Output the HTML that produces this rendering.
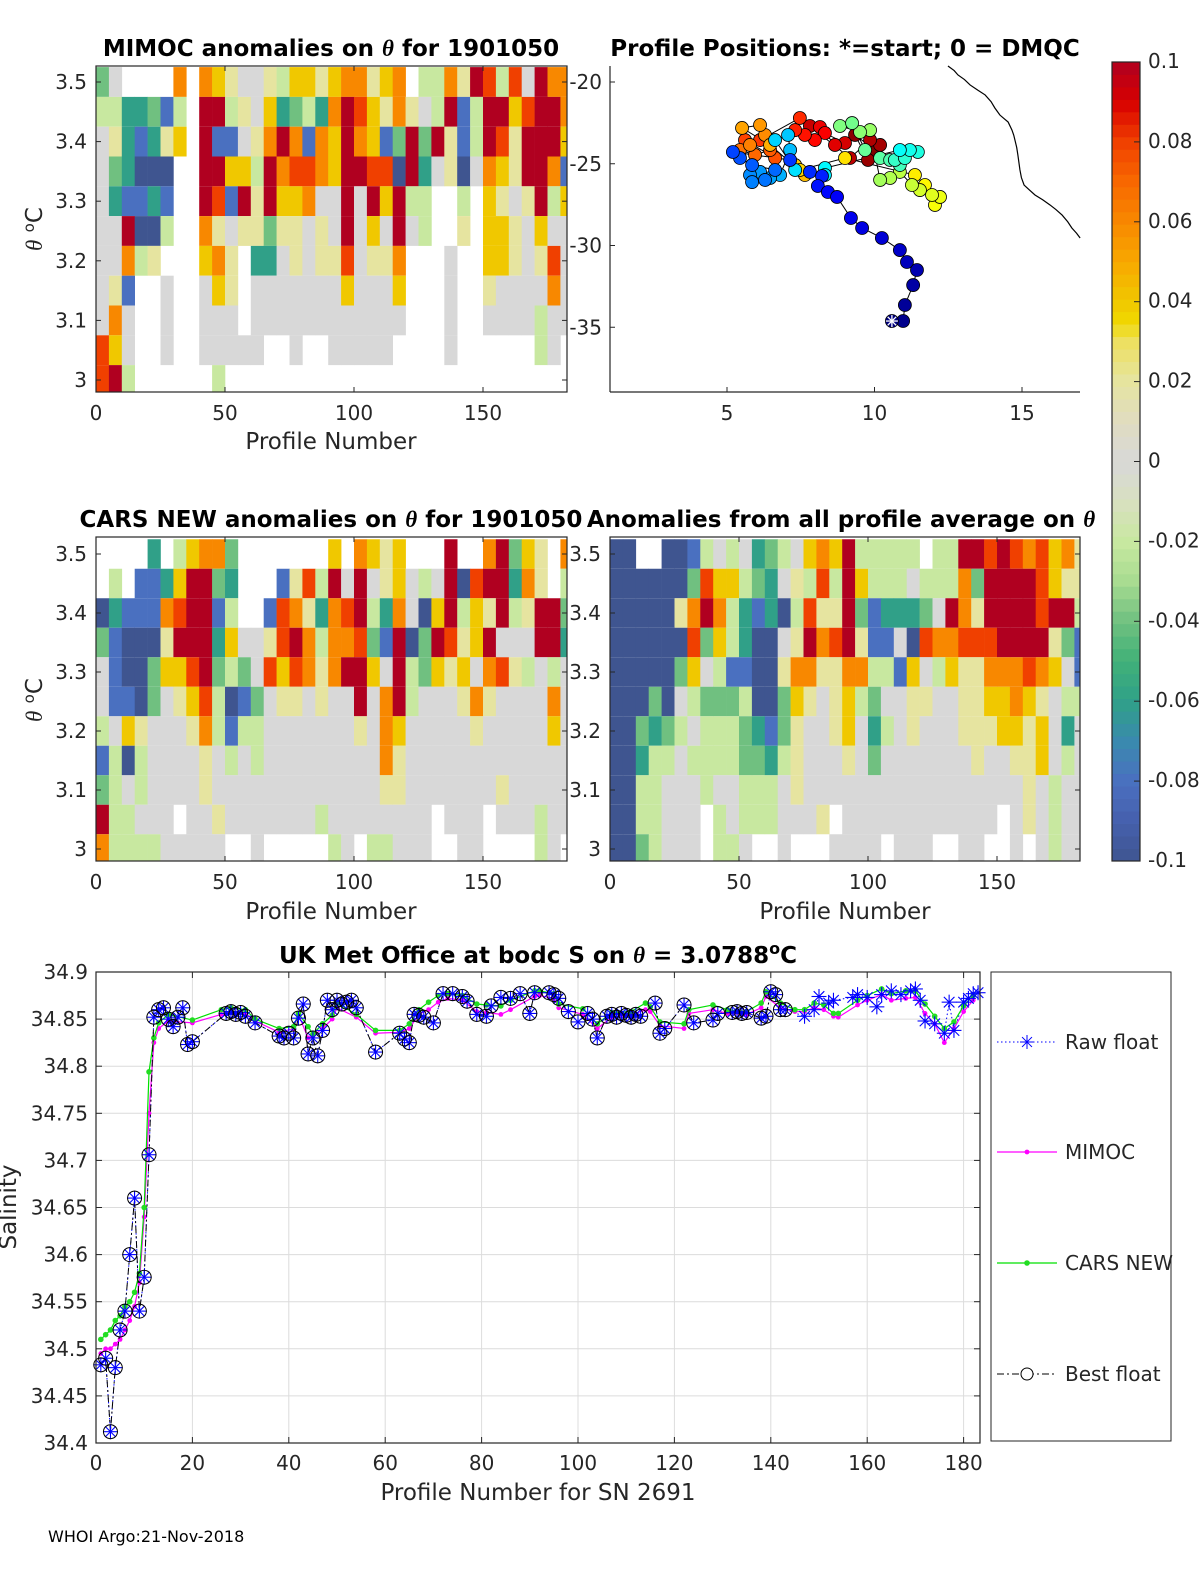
<!DOCTYPE html>
<html><head><meta charset="utf-8"><title>Argo float anomalies</title>
<style>
body{margin:0;background:#fff;}
svg{display:block;font-family:"DejaVu Sans","Liberation Sans",sans-serif;}
.tk{font-size:20px;fill:#262626;}
.ttl{font-size:23px;font-weight:bold;fill:#000;}
.lbl{font-size:23px;fill:#262626;}
</style></head>
<body>
<svg id="fig" width="1200" height="1575" viewBox="0 0 1200 1575" xmlns="http://www.w3.org/2000/svg">
<rect width="1200" height="1575" fill="#fff"/>
<g id="p1"></g>
<g id="p2"></g>
<g id="p3"></g>
<g id="p4"></g>
<g id="cb"></g>
<g id="p5"></g>

<text class="ttl" x="331" y="56" text-anchor="middle">MIMOC anomalies on <tspan font-style="italic" font-family="Liberation Serif">θ</tspan>  for 1901050</text>
<text class="ttl" x="845" y="56" text-anchor="middle">Profile Positions: *=start; 0 = DMQC</text>
<text class="ttl" x="331" y="527" text-anchor="middle">CARS NEW anomalies on <tspan font-style="italic" font-family="Liberation Serif">θ</tspan> for 1901050</text>
<text class="ttl" x="841" y="527" text-anchor="middle">Anomalies from all profile average on <tspan font-style="italic" font-family="Liberation Serif">θ</tspan></text>
<text class="ttl" x="538" y="963" text-anchor="middle">UK Met Office at bodc S on <tspan font-style="italic" font-family="Liberation Serif">θ</tspan> = 3.0788<tspan dy="-9" font-size="16">o</tspan><tspan dy="9">C</tspan></text>

<text class="lbl" x="331" y="449" text-anchor="middle">Profile Number</text>
<text class="lbl" x="331" y="919" text-anchor="middle">Profile Number</text>
<text class="lbl" x="845" y="919" text-anchor="middle">Profile Number</text>
<text class="lbl" transform="translate(42,229) rotate(-90)" text-anchor="middle"><tspan font-style="italic" font-family="Liberation Serif">θ</tspan> <tspan dy="-8" font-size="15">o</tspan><tspan dy="8">C</tspan></text>
<text class="lbl" transform="translate(42,700) rotate(-90)" text-anchor="middle"><tspan font-style="italic" font-family="Liberation Serif">θ</tspan> <tspan dy="-8" font-size="15">o</tspan><tspan dy="8">C</tspan></text>
<text class="lbl" x="538" y="1500" text-anchor="middle">Profile Number for SN 2691</text>
<text class="lbl" transform="translate(16,1207) rotate(-90)" text-anchor="middle">Salinity</text>
<text x="48" y="1542" font-size="16" fill="#000">WHOI Argo:21-Nov-2018</text>
</svg>
<script>
// ---------- heatmap data (columns = 5 profiles each, rows = theta bins 3.50 .. 3.00) ----------
const thetaCenters = [3.5,3.45,3.4,3.35,3.3,3.25,3.2,3.15,3.1,3.05,3.0];
const levelCodes = "ABCDEFGHIJK"; // -0.1 .. 0.1 step 0.02, '.' = no data
const mimocRows = [
"DF....I.IHGFFGEHHGHIIGHI.EEIGKJEJFKII",
"EECCDBE.KKEGFHCDECIKJHGIGFEKBEKKHJKKI",
"FGCBCGH.KBBFGIKIBIHKIHBDKDKGBEKJGKKKH",
"FDCAAA..KKHHEKIJJIHKKJJAKCFGAFIHGKKIB",
"FCBBCB..KJBKGKHHIFFKFKHKEE..E.HGFGKEH",
"FFKAAE..IGFGGDGGFGFKFHFKFE..G.HHGFHFF",
"FFIEG...HIG.CCFGFGGJFGGI...F..HHGFGJF",
"FGB..F..FHG.FFFFFFFHFFFH...F..GFFFFIF",
"FIF..F..FFF.FFFFFFFFFFFF...F..FFFFEFF",
"JHF..F..FFFFF..F..FFFFF....F......EF.",
"JKE......E..........................."];
const carsRows = [
"....C.EHIID.......H.IHGH...K..IKDHG.I",
".E.BBCHKKDC...BGJEKFKFGHFEFKAJKKCIG.E",
"ACBBBIJKKBE..BJIGCIJKECIFAHKEHGKEGKKD",
"DBAAAGKKKCHFFGJKIEIIJDBKADKJGHKFFFKKC",
"FBAADHHJKDEDFJHJIGIKKHFKEDHGHFIJGEFEF",
"FBBADFGHJEABDFGGFGFFKFIKEFFFGIGFFFFIF",
"EFHGFFFGIEBEEFFFFFFFGFIHFFFFFGFFFFFHF",
"BEAEFFFFGFEFEFFFFFFFFFIGFFFFFFFFFFFFF",
"DEFEFFFFGFFFFFFFFFFFFFGGFFFFFFFGFFFFF",
"KEEFFF.FFGFFFFFFFEFFFFFFFF.FFF.FFFEFF",
"IEEEEFFFFF..F.....EF.EEFFF..FF....EF."];
const avgRows = [
"AA..AABEFEFCDEFHIHKEEEEE.EEKKJKJIJHIG",
"AAAAAADJHHEDCFGEJEKHEEEFEEEIDKKKKJHGG",
"AAAAAGIKIECBCAEJGGKDBCCCDFKIGKKKKJKKE",
"AAAAAAJDHECAAFGKIJKGBBFAJIIJJJKKKKGDB",
"AAAAADHFEBBAAGIIGGIIEEBHFEHGGIIIJIHFB",
"AAADAFEDDDEAADHGFGHEDFFGGFFGGHHIHGFEE",
"AADCDEFEEEDCBDGFFGHFCEFGFFFGGGHHGHFCF",
"AACEEFEEEEDDCEGFFFGFDFFFFFFFGFFGGHFEF",
"AAEEFFFEFFEEEFGFFFFFFFFFFFFFFFFFGFEFF",
"AAEEFFF.EFEEEFFFG.FFFFFFFFFFFF.FGFEFF",
"AADEFFF.EEF..F...FFFF.FFF..FF..F.FEFF"];
const colorbarTicks = [0.1,0.08,0.06,0.04,0.02,0,-0.02,-0.04,-0.06,-0.08,-0.1];
const colorbarLabels = ["0.1","0.08","0.06","0.04","0.02","0","-0.02","-0.04","-0.06","-0.08","-0.1"];
const thetaTicks = [3.5,3.4,3.3,3.2,3.1,3];
const thetaTickLabels = ["3.5","3.4","3.3","3.2","3.1","3"];
const profileTicks = [0,50,100,150];

// ---------- map data ----------
const trackLon = [10.59,10.97,11.03,11.31,11.44,11.10,10.86,10.25,9.58,9.20,
 8.73,8.42,8.08,8.22,7.81,7.14,5.20,5.44,5.85,
 6.63,6.29,5.85,5.78,6.12,6.46,6.80,7.14,7.07,6.63,
 7.31,8.32,8.32,10.86,11.20,11.47,11.03,10.69,
 10.86,10.53,10.19,9.68,9.24,8.83,9.51,9.85,
 10.19,10.53,10.86,11.27,11.54,11.95,12.22,12.05,11.71,11.37,
 9.00,7.47,7.31,7.64,6.46,
 5.51,6.12,6.29,5.78,5.44,5.95,6.46,6.63,5.61,6.12,
 7.47,7.31,7.64,7.98,8.32,8.15,8.66,9.00,7.81,
 9.17,9.85,10.19,9.78,9.34,10.02];
const trackLat = [-34.62,-34.62,-33.64,-32.42,-31.50,-31.01,-30.28,-29.54,-28.93,-28.32,
 -27.03,-26.73,-26.36,-25.75,-25.50,-24.77,-24.28,-24.65,-25.08,
 -25.38,-25.99,-26.12,-25.69,-25.50,-25.87,-25.69,-24.16,-23.24,-23.55,
 -25.38,-25.69,-25.26,-24.16,-24.16,-24.28,-24.65,-24.77,
 -25.08,-24.77,-24.65,-24.16,-22.51,-22.69,-23.06,-22.94,
 -25.99,-25.87,-25.50,-26.30,-26.61,-26.91,-27.03,-27.52,-26.30,-25.69,
 -24.65,-25.38,-25.08,-25.69,-23.85,
 -22.81,-22.63,-23.24,-23.85,-24.16,-24.46,-24.16,-24.65,-23.55,-23.55,
 -22.20,-22.94,-23.24,-23.55,-23.12,-22.75,-23.85,-23.73,-22.69,
 -24.65,-23.55,-23.85,-24.77,-23.24,-24.16];
const coastLon = [12.49,12.70,12.83,13.05,13.24,13.50,13.75,13.95,14.08,14.25,14.40,14.53,14.66,14.72,14.76,14.82,14.86,14.93,14.98,15.07,15.25,15.44,15.70,15.95,16.15,16.36,16.55,16.69,16.85,16.97];
const coastLat = [-19.02,-19.30,-19.57,-19.85,-20.18,-20.50,-20.79,-21.20,-21.59,-22.02,-22.25,-22.45,-22.94,-23.25,-23.55,-24.00,-24.46,-25.38,-25.85,-26.30,-26.60,-26.91,-27.20,-27.52,-27.80,-28.14,-28.55,-28.93,-29.25,-29.54];
const lonTicks = [5,10,15];
const latTicks = [-20,-25,-30,-35];

// ---------- salinity data ----------
const bestFloat = [[1,34.483],[2,34.49],[3,34.412],[4,34.48],[5,34.52],[6,34.54],[7,34.6],[8,34.66],[9,34.54],[10,34.576],
[11,34.706],[12,34.852],[13,34.86],[14,34.862],[15,34.85],[16,34.842],[17,34.852],[18,34.862],[19,34.823],[20,34.826],
[27,34.856],[28,34.858],[29,34.855],[30,34.857],[31,34.853],[33,34.846],
[38,34.832],[39,34.83],[40,34.835],[41,34.83],[42,34.851],[43,34.866],[44,34.813],[45,34.83],[46,34.811],[47,34.838],
[48,34.87],[49,34.86],[50,34.87],[51,34.866],[52,34.868],[53,34.87],[54,34.862],[58,34.815],[63,34.835],[64,34.829],
[65,34.825],[66,34.855],[67,34.854],[68,34.852],[70,34.846],[72,34.877],[74,34.877],[76,34.874],[77,34.869],[79,34.855],
[81,34.853],[82,34.864],[84,34.873],[86,34.872],[88,34.877],[90,34.856],[91,34.878],[94,34.878],[95,34.876],[96,34.872],
[98,34.858],[100,34.847],[102,34.856],[103,34.85],[104,34.83],[106,34.853],[107,34.855],[108,34.852],[109,34.856],[110,34.854],
[111,34.852],[112,34.855],[113,34.853],[116,34.867],[117,34.835],[118,34.84],[122,34.865],[124,34.846],[128,34.849],[129,34.856],
[132,34.857],[133,34.858],[134,34.856],[135,34.857],[138,34.851],[139,34.853],[140,34.879],[141,34.876],[142,34.86],[143,34.86]];
const rawFloatExtra = [[147,34.853],[149,34.86],[150,34.874],[152,34.867],[153,34.87],[157,34.873],[158,34.876],[160,34.873],
[162,34.863],[163,34.876],[165,34.88],[167,34.876],[169,34.88],[170,34.882],[171,34.87],[172,34.848],[174,34.845],[176,34.835],
[177,34.868],[178,34.838],[180,34.868],[181,34.872],[182,34.877],[183,34.878]];
const modelProfiles = [1,2,3,4,5,6,7,8,9,10,11,12,13,15,20,26,28,31,33,38,41,42,44,45,47,49,50,54,58,63,65,67,69,71,73,76,79,81,84,86,91,92,95,96,101,104,107,111,114,115,117,122,123,128,131,135,138,139,142,145,147,149,151,153,154,158,160,163,165,168,170,172,174,176,178,180,182];
const carsS = [34.51,34.515,34.52,34.53,34.535,34.545,34.55,34.56,34.58,34.65,34.794,34.83,34.846,34.855,34.849,34.86,34.862,34.86,34.85,34.84,34.842,34.856,34.842,34.834,34.845,34.854,34.867,34.855,34.838,34.838,34.845,34.86,34.868,34.875,34.877,34.875,34.866,34.865,34.864,34.87,34.88,34.88,34.877,34.866,34.861,34.845,34.857,34.858,34.867,34.863,34.847,34.845,34.86,34.865,34.86,34.858,34.867,34.879,34.867,34.86,34.86,34.867,34.865,34.856,34.856,34.87,34.875,34.882,34.877,34.88,34.88,34.866,34.853,34.84,34.847,34.864,34.875];
const mimocS = [34.495,34.5,34.5,34.505,34.51,34.52,34.53,34.545,34.57,34.64,34.75,34.825,34.84,34.848,34.846,34.855,34.858,34.856,34.848,34.836,34.84,34.855,34.83,34.832,34.84,34.85,34.862,34.852,34.835,34.836,34.84,34.855,34.86,34.868,34.872,34.87,34.858,34.857,34.855,34.86,34.874,34.875,34.872,34.862,34.855,34.84,34.852,34.854,34.86,34.858,34.843,34.84,34.856,34.86,34.856,34.855,34.862,34.874,34.862,34.858,34.858,34.862,34.86,34.853,34.852,34.865,34.87,34.876,34.87,34.872,34.873,34.856,34.845,34.825,34.84,34.858,34.87];
const salTicks = [34.9,34.85,34.8,34.75,34.7,34.65,34.6,34.55,34.5,34.45,34.4];
const salTickLabels = ["34.9","34.85","34.8","34.75","34.7","34.65","34.6","34.55","34.5","34.45","34.4"];
const profTicks2 = [0,20,40,60,80,100,120,140,160,180];
const legendLabels = ["Raw float","MIMOC","CARS NEW","Best float"];

// ---------- helpers ----------
const NS = "http://www.w3.org/2000/svg";
function mk(parent, tag, attrs){const e=document.createElementNS(NS,tag);for(const k in attrs)e.setAttribute(k,attrs[k]);parent.appendChild(e);return e;}
const cStops=[[-0.1,[63,85,144]],[-0.09,[70,96,173]],[-0.08,[74,112,192]],[-0.07,[58,138,174]],[-0.06,[48,160,136]],[-0.05,[64,176,120]],[-0.04,[112,192,128]],[-0.03,[168,220,144]],[-0.02,[200,232,160]],[-0.01,[216,224,192]],[0,[216,216,216]],[0.01,[224,220,192]],[0.02,[230,228,160]],[0.03,[237,224,96]],[0.035,[240,216,0]],[0.04,[240,200,0]],[0.05,[248,168,0]],[0.06,[248,136,0]],[0.07,[248,104,0]],[0.08,[240,64,0]],[0.09,[216,0,0]],[0.1,[176,0,32]]];
function cmap(v){v=Math.max(-0.1,Math.min(0.1,v));for(let i=0;i<cStops.length-1;i++){const a=cStops[i],b=cStops[i+1];if(v<=b[0]){const t=(v-a[0])/(b[0]-a[0]);const c=a[1].map((x,j)=>Math.round(x+(b[1][j]-x)*t));return "rgb("+c.join(",")+")";}}return "rgb(176,0,32)";}
function jet(t){const r=Math.max(0,Math.min(1,1.5-Math.abs(4*t-3))),g=Math.max(0,Math.min(1,1.5-Math.abs(4*t-2))),b=Math.max(0,Math.min(1,1.5-Math.abs(4*t-1)));return "rgb("+[r,g,b].map(x=>Math.round(x*255)).join(",")+")";}

// ---------- heatmap panel ----------
function heatPanel(g, rows, L, R, T, B, y3, pxPer01, yLabelX){
  const xs=p=>L+p*2.58;
  const ys=th=>y3-(th-3)*pxPer01*10;
  rows.forEach((row,r)=>{
    for(let c=0;c<row.length;c++){
      const ch=row[c]; if(ch===".")continue;
      const v=levelCodes.indexOf(ch)*0.02-0.1;
      const x0=xs(c*5), x1=Math.min(R,xs(c*5+5));
      if(x0>=R)continue;
      const y0=Math.max(T,ys(thetaCenters[r]+0.025)), y1=Math.min(B,ys(thetaCenters[r]-0.025));
      const e=mk(g,"rect",{x:x0,y:y0,width:x1-x0+0.3,height:y1-y0,fill:cmap(v)});
      
      
    }
  });
  mk(g,"rect",{x:L,y:T,width:R-L,height:B-T,fill:"none",stroke:"#262626","stroke-width":1.2});
  thetaTicks.forEach((th,i)=>{const y=ys(th);
    mk(g,"line",{x1:L,y1:y,x2:L+5,y2:y,stroke:"#262626"});
    mk(g,"line",{x1:R,y1:y,x2:R-5,y2:y,stroke:"#262626"});
    const t=mk(g,"text",{x:yLabelX,y:y+7,"text-anchor":"end",class:"tk"});t.textContent=thetaTickLabels[i];
    
    
  });
  profileTicks.forEach(p=>{const x=xs(p);
    mk(g,"line",{x1:x,y1:B,x2:x,y2:B-5,stroke:"#262626"});
    mk(g,"line",{x1:x,y1:T,x2:x,y2:T+5,stroke:"#262626"});
    const t=mk(g,"text",{x:x,y:B+28,"text-anchor":"middle",class:"tk"});t.textContent=String(p);
    
    
  });
}
heatPanel(document.getElementById("p1"),mimocRows,96,567,66,392,380,59.6,87);
heatPanel(document.getElementById("p3"),carsRows,96,567,537,861,849,59,87);
heatPanel(document.getElementById("p4"),avgRows,610,1080,537,861,849,59,601);

// ---------- map ----------
(function(){
  const g=document.getElementById("p2");
  const L=610,R=1080,T=66,B=392;
  const xm=lon=>727+(lon-5)*29.5, ym=lat=>82+(-20-lat)*16.35;
  const cl=mk(g,"polyline",{points:coastLon.map((lo,i)=>xm(lo)+","+ym(coastLat[i])).join(" "),fill:"none",stroke:"#000","stroke-width":1.2});
  
  
  const tr=mk(g,"polyline",{points:trackLon.map((lo,i)=>xm(lo)+","+ym(trackLat[i])).join(" "),fill:"none",stroke:"#000","stroke-width":1});
  
  
  const n=trackLon.length;
  for(let i=n-1;i>=0;i--){
    const c=mk(g,"circle",{cx:xm(trackLon[i]),cy:ym(trackLat[i]),r:6.5,fill:jet(i/(n-1)),stroke:"#000","stroke-width":0.8});
    
    
  }
  const sx=xm(trackLon[0]),sy=ym(trackLat[0]);
  for(let a=0;a<4;a++){const an=a*Math.PI/4;mk(g,"line",{x1:sx-6*Math.cos(an),y1:sy-6*Math.sin(an),x2:sx+6*Math.cos(an),y2:sy+6*Math.sin(an),stroke:"#fff","stroke-width":1.3});}
  mk(g,"line",{x1:L,y1:T,x2:L,y2:B,stroke:"#262626","stroke-width":1.2});
  mk(g,"line",{x1:L,y1:B,x2:R,y2:B,stroke:"#262626","stroke-width":1.2});
  lonTicks.forEach(lo=>{const x=xm(lo);mk(g,"line",{x1:x,y1:B,x2:x,y2:B-5,stroke:"#262626"});
    const t=mk(g,"text",{x:x,y:B+28,"text-anchor":"middle",class:"tk"});t.textContent=String(lo);
    
    });
  latTicks.forEach(la=>{const y=ym(la);mk(g,"line",{x1:L,y1:y,x2:L+5,y2:y,stroke:"#262626"});
    const t=mk(g,"text",{x:L-8,y:y+7,"text-anchor":"end",class:"tk"});t.textContent=String(la);
    
    });
})();

// ---------- colorbar ----------
(function(){
  const g=document.getElementById("cb");
  const L=1112,R=1140,T=62,B=861;
  const yc=v=>T+(0.1-v)/0.2*(B-T);
  const N=64;
  for(let i=0;i<N;i++){const v0=-0.1+0.2*i/N,v1=-0.1+0.2*(i+1)/N;
    const e=mk(g,"rect",{x:L,y:yc(v1),width:R-L,height:yc(v0)-yc(v1)+0.4,fill:cmap((v0+v1)/2)});
    
    }
  mk(g,"rect",{x:L,y:T,width:R-L,height:B-T,fill:"none",stroke:"#262626","stroke-width":1.2});
  colorbarTicks.forEach((v,i)=>{const y=yc(v);mk(g,"line",{x1:R,y1:y,x2:R-6,y2:y,stroke:"#262626"});
    const t=mk(g,"text",{x:R+8,y:y+6,class:"tk","font-size":"18"});t.textContent=colorbarLabels[i];
    
    });
})();

// ---------- salinity chart ----------
(function(){
  const g=document.getElementById("p5");
  const L=96,R=980,T=972,B=1443;
  const xs=p=>L+p*4.82, ys=s=>T+(34.9-s)*942;
  profTicks2.forEach(p=>{const x=xs(p);mk(g,"line",{x1:x,y1:T,x2:x,y2:B,stroke:"#dcdcdc"});});
  salTicks.forEach(s=>{const y=ys(s);mk(g,"line",{x1:L,y1:y,x2:R,y2:y,stroke:"#dcdcdc"});});
  const pl=(pts,attrs,name)=>{const e=mk(g,"polyline",Object.assign({points:pts.map(q=>xs(q[0])+","+ys(q[1])).join(" "),fill:"none"},attrs));return e;};
  const raw=bestFloat.concat(rawFloatExtra);
  pl(raw,{stroke:"#0000ff","stroke-width":1,"stroke-dasharray":"1.5,2.5"},"raw-float-line");
  const mim=modelProfiles.map((p,i)=>[p,mimocS[i]]);
  const car=modelProfiles.map((p,i)=>[p,carsS[i]]);
  pl(mim,{stroke:"#ff00ff","stroke-width":1.2},"mimoc-line");
  mim.forEach(q=>{const c=mk(g,"circle",{cx:xs(q[0]),cy:ys(q[1]),r:2.4,fill:"#ff00ff"});});
  pl(car,{stroke:"#00e000","stroke-width":1.2},"cars-line");
  car.forEach(q=>{const c=mk(g,"circle",{cx:xs(q[0]),cy:ys(q[1]),r:2.8,fill:"#22dd22"});});
  pl(bestFloat,{stroke:"#000","stroke-width":1,"stroke-dasharray":"7,3,2,3"},"best-float-line");
  const star=(x,y,r,name)=>{const s=mk(g,"g",{stroke:"#0000ff","stroke-width":1.1});
    for(let a=0;a<4;a++){const an=a*Math.PI/4;mk(s,"line",{x1:x-r*Math.cos(an),y1:y-r*Math.sin(an),x2:x+r*Math.cos(an),y2:y+r*Math.sin(an)});}};
  raw.forEach(q=>star(xs(q[0]),ys(q[1]),7.5,"raw-float-point"));
  bestFloat.forEach(q=>{const c=mk(g,"circle",{cx:xs(q[0]),cy:ys(q[1]),r:7,fill:"none",stroke:"#000","stroke-width":1});});
  mk(g,"rect",{x:L,y:T,width:R-L,height:B-T,fill:"none",stroke:"#262626","stroke-width":1.2});
  salTicks.forEach((s,i)=>{const y=ys(s);mk(g,"line",{x1:L,y1:y,x2:L+6,y2:y,stroke:"#262626"});mk(g,"line",{x1:R,y1:y,x2:R-6,y2:y,stroke:"#262626"});
    const t=mk(g,"text",{x:L-8,y:y+7,"text-anchor":"end",class:"tk"});t.textContent=salTickLabels[i];
    
    });
  profTicks2.forEach(p=>{const x=xs(p);mk(g,"line",{x1:x,y1:B,x2:x,y2:B-6,stroke:"#262626"});mk(g,"line",{x1:x,y1:T,x2:x,y2:T+6,stroke:"#262626"});
    const t=mk(g,"text",{x:x,y:B+27,"text-anchor":"middle",class:"tk"});t.textContent=String(p);
    
    });
  // legend
  const lg=mk(g,"g",{});
  
  
  mk(lg,"rect",{x:991,y:972,width:180,height:469,fill:"#fff",stroke:"#262626","stroke-width":1});
  const ly=[1042,1152,1263,1374];
  mk(lg,"line",{x1:997,y1:ly[0],x2:1057,y2:ly[0],stroke:"#0000ff","stroke-dasharray":"1.5,2.5"});
  for(let a=0;a<4;a++){const an=a*Math.PI/4;mk(lg,"line",{x1:1027-7*Math.cos(an),y1:ly[0]-7*Math.sin(an),x2:1027+7*Math.cos(an),y2:ly[0]+7*Math.sin(an),stroke:"#0000ff"});}
  mk(lg,"line",{x1:997,y1:ly[1],x2:1057,y2:ly[1],stroke:"#ff00ff","stroke-width":1.2});
  mk(lg,"circle",{cx:1027,cy:ly[1],r:2.4,fill:"#ff00ff"});
  mk(lg,"line",{x1:997,y1:ly[2],x2:1057,y2:ly[2],stroke:"#00e000","stroke-width":1.2});
  mk(lg,"circle",{cx:1027,cy:ly[2],r:2.8,fill:"#22dd22"});
  mk(lg,"line",{x1:997,y1:ly[3],x2:1057,y2:ly[3],stroke:"#000","stroke-dasharray":"7,3,2,3"});
  mk(lg,"circle",{cx:1027,cy:ly[3],r:6,fill:"#fff",stroke:"#000"});
  legendLabels.forEach((s,i)=>{const t=mk(lg,"text",{x:1065,y:ly[i]+7,class:"tk","font-size":"19"});t.textContent=s;
    
    });
})();
</script>
</body></html>
